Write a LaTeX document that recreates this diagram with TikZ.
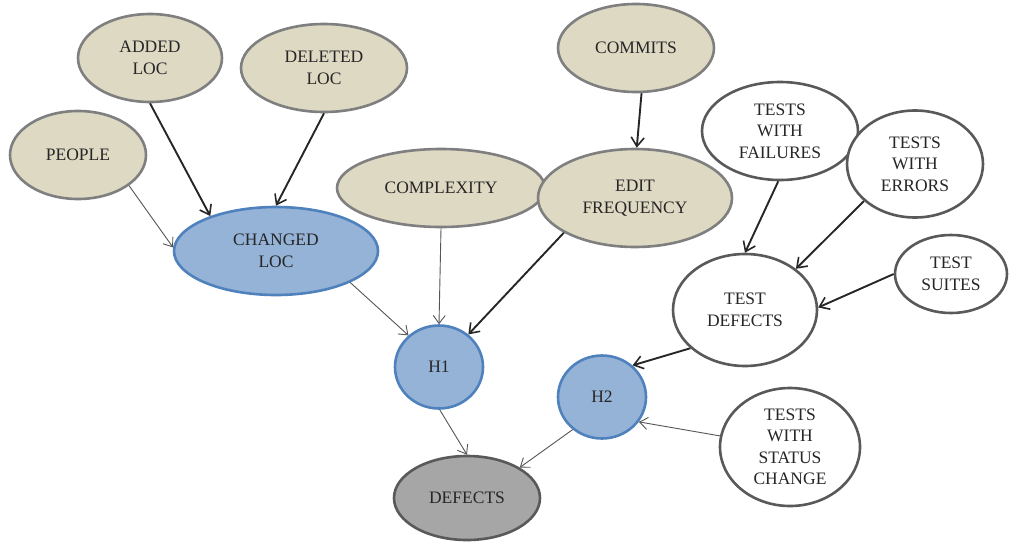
\documentclass[tikz,border=0pt]{standalone}
\usepackage{fontspec}
\setmainfont{Liberation Serif}
\usetikzlibrary{shapes.geometric,arrows.meta}
\definecolor{tanfill}{HTML}{DDD9C3}
\definecolor{tanline}{HTML}{7F7F7F}
\definecolor{bluefill}{HTML}{95B3D7}
\definecolor{blueline}{HTML}{4F81BD}
\definecolor{greyfill}{HTML}{A6A6A6}
\definecolor{darkline}{HTML}{595959}
\definecolor{thinline}{HTML}{555555}
\tikzset{
  var/.style={ellipse, inner sep=0pt, line width=2.6pt, align=center,
    font=\fontsize{17.5}{21.5}\selectfont, text=black!85},
  measure/.style={var, draw=tanline, fill=tanfill},
  derived/.style={var, draw=blueline, fill=bluefill},
  testvar/.style={var, draw=darkline, fill=white},
  outcome/.style={var, draw=darkline, fill=greyfill},
  strong/.style={draw=black!85, line width=1.9pt, -{Straight Barb[length=9pt,width=13pt,line width=1.6pt]}},
  weak/.style={draw=thinline, line width=0.9pt, -{Straight Barb[length=8pt,width=12pt,line width=0.9pt]}},
}
\begin{document}
\begin{tikzpicture}[x=1pt,y=-1pt]
\useasboundingbox (0,0) rectangle (1019,546);
% source metrics
\node[measure, minimum width=144pt, minimum height=88pt] (added) at (150,58) {ADDED\\LOC};
\node[measure, minimum width=166pt, minimum height=88pt] (deleted) at (324,68) {DELETED\\LOC};
\node[measure, minimum width=136pt, minimum height=88pt] (people) at (78,155) {PEOPLE};
\node[measure, minimum width=208pt, minimum height=78pt] (complexity) at (441,188) {COMPLEXITY};
\node[measure, minimum width=156pt, minimum height=88pt] (commits) at (636,48) {COMMITS};
\node[measure, minimum width=194pt, minimum height=98pt] (editfreq) at (635,198) {EDIT\\FREQUENCY};
% derived and hidden variables
\node[derived, minimum width=204pt, minimum height=88pt] (changed) at (276,251) {CHANGED\\LOC};
\node[derived, minimum width=88pt, minimum height=83pt] (h1) at (439,367) {H1};
\node[derived, minimum width=88pt, minimum height=83pt] (h2) at (602,397) {H2};
% test metrics
\node[testvar, minimum width=156pt, minimum height=98pt] (failures) at (780,131) {TESTS\\WITH\\FAILURES};
\node[testvar, minimum width=136pt, minimum height=107pt] (errors) at (915,164) {TESTS\\WITH\\ERRORS};
\node[testvar, minimum width=112pt, minimum height=78pt] (suites) at (951,274) {TEST\\SUITES};
\node[testvar, minimum width=144pt, minimum height=112pt] (testdef) at (745,310) {TEST\\DEFECTS};
\node[testvar, minimum width=140pt, minimum height=118pt] (status) at (790,447) {TESTS\\WITH\\STATUS\\CHANGE};
% outcome
\node[outcome, minimum width=146pt, minimum height=84pt] (defects) at (467,498) {DEFECTS};
% dependencies
\draw[strong] (added.south) -- (changed.152);
\draw[strong] (deleted.south) -- (changed.north);
\draw[weak] (people.-31) -- (changed.178);
\draw[weak] (complexity.south) -- (h1.north);
\draw[weak] (changed.-23) -- (h1.134);
\draw[strong] (editfreq.206) -- (h1.48);
\draw[strong] (commits.-83) -- (editfreq.88);
\draw[strong] (failures.-92) -- (testdef.90);
\draw[strong] (errors.216) -- (testdef.39);
\draw[strong] (suites.180) -- (testdef.2);
\draw[strong] (testdef.215) -- (h2.46);
\draw[weak] (status.171) -- (h2.-34);
\draw[weak] (h1.-89) -- (defects.north);
\draw[weak] (h2.228) -- (defects.30);
\end{tikzpicture}
\end{document}
